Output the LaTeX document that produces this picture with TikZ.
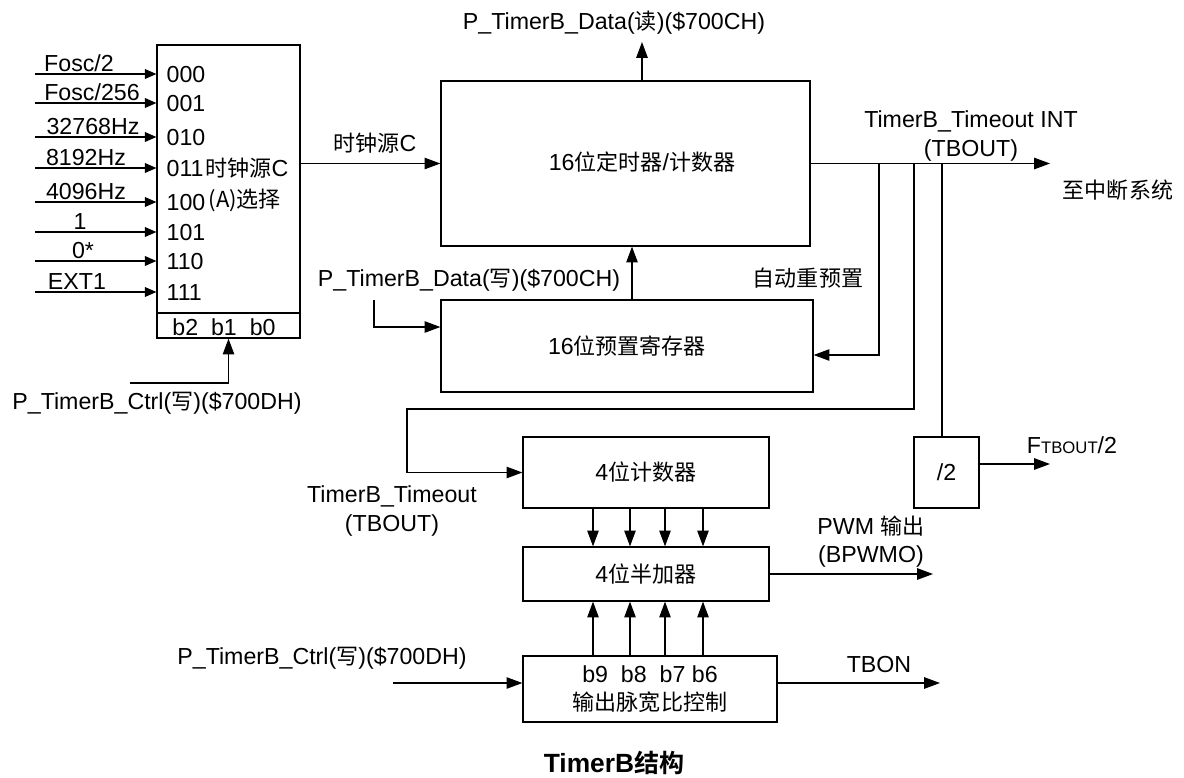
\documentclass[tikz,border=0pt]{standalone}
\usepackage{fontspec}
\setmainfont{Liberation Sans}
\newfontfamily\cjk{Noto Sans CJK SC}[Scale=0.95, BoldFont={Noto Sans CJK SC Bold}]
\newcommand\zh[1]{{\cjk #1}}
\usetikzlibrary{arrows.meta}
\tikzset{
  blk/.style 2 args={draw, minimum width=#1*0.02cm, minimum height=#2*0.02cm, inner sep=1pt},
  arr/.style={-{Triangle[length=9pt,width=6.5pt]}},
  arrs/.style={-{Triangle[length=6.5pt,width=5.5pt]}},
}

\begin{document}
\begin{tikzpicture}[x=0.02cm, y=-0.02cm, line width=0.7pt, font=\fontsize{13.2}{16}\selectfont]
\useasboundingbox (0,0) rectangle (1184,778);

% clock source select
\node[blk={143}{293}] (mux) at (228.5,191.5) {};
\draw (mux.west |- 0,313) -- (mux.east |- 0,313);
\node (msb) at (224,327) {b2~~b1~~b0};
\foreach \i/\y/\t/\lx/\cd in {0/74/{Fosc/2}/79/000, 1/103/{Fosc/256}/92/001, 2/137/32768Hz/93/010, 3/168/8192Hz/86/011,
    4/202/4096Hz/86/100, 5/232/1/80/101, 6/261/0*/83/110, 7/292/EXT1/77/111} {
  \coordinate (in\i) at (35,\y);
  \draw[arrs] (in\i) -- (mux.west |- in\i);
  \node[anchor=base] (src\i) at (\lx,\y-3) {\t};
  \node[anchor=west, inner sep=0pt] (sel\i) at (166,\y+1) {\cd}; }
\node[anchor=west, inner sep=0pt] (mxa) at (205,168) {\zh{时钟源}C};
\node[anchor=west, inner sep=0pt] (mxb) at (208,200) {\zh{(A)选择}};
\coordinate (msel) at (130,383);
\draw[arr] (msel) -| (mux.south);
\node (mctl) at (157,403) {P\_TimerB\_Ctrl(\zh{写})(\$700DH)};

% 16 bit timer and preset
\node[blk={369}{165}] (tmr) at (625.5,163.5) {};
\node (tmrt) at (642,162) {16\zh{位定时器}/\zh{计数器}};
\node (clk) at (375,143) {\zh{时钟源}C};
\draw[arr] (mux.east |- tmr.west) -- (tmr.west);
\coordinate (rd) at (642,42);
\draw[arr] (tmr.north -| rd) -- (rd);
\node (rdl) at (614,23) {P\_TimerB\_Data(\zh{读})(\$700CH)};
\node[blk={372}{92}] (pre) at (627,346) {16\zh{位预置寄存器}};
\draw[arr] (pre.north -| 632,0) -- (tmr.south -| 632,0);
\coordinate (wr) at (374,300);
\draw[arr] (wr) |- ([yshift=0.38cm]pre.west);
\node (wrl) at (469,280) {P\_TimerB\_Data(\zh{写})(\$700CH)};

% timeout
\coordinate (int) at (1050,163.5);
\draw[arr] (tmr.east) -- (int);
\node[align=center] (intl) at (971,136) {TimerB\_Timeout INT\\(TBOUT)};
\node (intd) at (1118,190) {\zh{至中断系统}};
\foreach \n/\x in {a/879, b/914, c/942} \coordinate (tap\n) at (\x,163.5);
\draw[arr] (tapa) |- ([yshift=-0.18cm]pre.east);
\node (arl) at (808,278) {\zh{自动重预置}};

% PWM part
\node[blk={246}{71}] (cnt) at (646,472.5) {4\zh{位计数器}};
\node[blk={246}{54}] (add) at (646,574) {4\zh{位半加器}};
\node[blk={254}{66}, align=center] (pwc) at (650,689) {b9~~b8~~b7 b6\\\zh{输出脉宽比控制}};
\draw[arr] (tapb) |- (407,409) |- (cnt.west);
\node[align=center] (tol) at (392,511) {TimerB\_Timeout\\(TBOUT)};
\foreach \x in {593,630,665,703} {
  \draw[arr] (cnt.south -| \x,0) -- (add.north -| \x,0);
  \draw[arr] (pwc.north -| \x,0) -- (add.south -| \x,0); }
\coordinate (pwm) at (933,574);
\draw[arr] (add.east) -- (pwm);
\node[align=center] (pwml) at (871,542) {PWM \zh{输出}\\(BPWMO)};
\coordinate (tbon) at (940,683);
\draw[arr] (pwc.east |- tbon) -- (tbon);
\node (tbonl) at (879,665) {TBON};
\coordinate (cin) at (393,683);
\draw[arr] (cin) -- (pwc.west |- cin);
\node (cinl) at (322,658) {P\_TimerB\_Ctrl(\zh{写})(\$700DH)};

% divide by two
\node[blk={65}{71}] (dv) at (946.5,472.5) {/2};
\draw (tapc) -- (dv.north -| tapc);
\coordinate (fo) at (1050,464);
\draw[arr] (dv.east |- fo) -- (fo);
\node (fol) at (1072,445) {F{\fontsize{9.5}{10}\selectfont TBOUT}/2};

\node[font=\fontsize{15}{17}\selectfont\bfseries] (ttl) at (614,763) {TimerB\zh{结构}};
\end{tikzpicture}
\end{document}
